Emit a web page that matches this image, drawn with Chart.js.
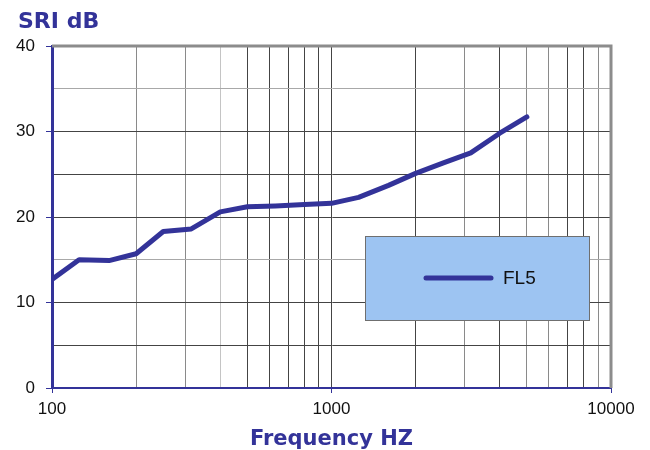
<!DOCTYPE html>
<html>
<head>
<meta charset="utf-8">
<script src="https://cdn.jsdelivr.net/npm/chart.js@4.4.1/dist/chart.umd.min.js"></script>
<style>
  body { margin: 0; background: #fff; }
  #wrap { width: 650px; height: 450px; position: relative; }
</style>
</head>
<body>
<div id="wrap"><canvas id="sriChart"></canvas></div>
<script>
// third-octave band centres and SRI values
const frequencies = [100, 125, 160, 200, 250, 315, 400, 500, 630, 800, 1000, 1250, 1600, 2000, 2500, 3150, 4000, 5000];
const sriValues = [12.7, 15.0, 14.9, 15.7, 18.3, 18.6, 20.6, 21.2, 21.3, 21.45, 21.6, 22.3, 23.7, 25.1, 26.3, 27.5, 29.8, 31.7];
const xGridValues = [100, 200, 300, 400, 500, 600, 700, 800, 900, 1000, 2000, 3000, 4000, 5000, 6000, 7000, 8000, 9000, 10000];
const xTickLabels = [100, 1000, 10000];
const yTickLabels = [0, 10, 20, 30, 40];
const seriesName = 'FL5';

const blue = '#333399';
const labelFont = { family: 'Liberation Sans, Arial, sans-serif', size: 17 };
const titleFont = { family: 'DejaVu Sans, sans-serif', size: 21, weight: 'bold', lineHeight: 1.0 };

// draws the title, the grey top/right frame and the boxed legend
const extras = {
    id: 'extras',
    afterDraw(chart) {
        const ctx = chart.ctx;
        const a = chart.chartArea;
        ctx.save();

        ctx.strokeStyle = '#8c8c8c';
        ctx.lineWidth = 3;
        ctx.beginPath();
        ctx.moveTo(a.left, a.top);
        ctx.lineTo(a.right, a.top);
        ctx.lineTo(a.right, a.bottom);
        ctx.stroke();

        ctx.fillStyle = blue;
        ctx.font = 'bold 22px "DejaVu Sans", sans-serif';
        ctx.textBaseline = 'alphabetic';
        ctx.fillText('SRI dB', 18, 28);

        // legend box
        ctx.fillStyle = '#9dc4f2';
        ctx.fillRect(365, 236, 224, 84);
        ctx.strokeStyle = '#6f6f6f';
        ctx.lineWidth = 1;
        ctx.strokeRect(365.5, 236.5, 224, 84);

        ctx.strokeStyle = blue;
        ctx.lineWidth = 5;
        ctx.lineCap = 'round';
        ctx.beginPath();
        ctx.moveTo(426, 278);
        ctx.lineTo(491, 278);
        ctx.stroke();

        ctx.fillStyle = '#111';
        ctx.font = '19px "Liberation Sans", Arial, sans-serif';
        ctx.textBaseline = 'middle';
        ctx.fillText(seriesName, 503, 279);
        ctx.restore();
    }
};

function gridColorX(ctx) {
    const v = ctx.tick ? ctx.tick.value : 0;
    if (v === 400) return '#c4c4c4';
    if (v === 200 || v === 300 || v === 3000 || v === 5000 || v === 6000 || v === 9000) return '#8a8a8a';
    return '#444';
}

function gridColorY(ctx) {
    const v = ctx.tick ? ctx.tick.value : 0;
    if (v === 15 || v === 35) return '#a8a8a8';
    return '#444';
}

new Chart(document.getElementById('sriChart'), {
    type: 'line',
    data: {
        labels: frequencies,
        datasets: [{
            label: seriesName,
            data: frequencies.map((f, i) => ({ x: f, y: sriValues[i] })),
            borderColor: blue,
            backgroundColor: blue,
            borderWidth: 5,
            pointRadius: 0,
            tension: 0,
            borderCapStyle: 'round',
            borderJoinStyle: 'round'
        }]
    },
    options: {
        responsive: true,
        maintainAspectRatio: false,
        animation: false,
        layout: { padding: { top: 46, right: 39, bottom: 0, left: 0 } },
        plugins: {
            legend: { display: false },
            tooltip: { enabled: false }
        },
        scales: {
            x: {
                type: 'logarithmic',
                min: 100,
                max: 10000,
                afterBuildTicks: (scale) => {
                    scale.ticks = xGridValues.map(v => ({ value: v }));
                },
                afterFit: (scale) => { scale.height = 62; },
                ticks: {
                    color: '#111',
                    font: labelFont,
                    padding: 6,
                    maxRotation: 0,
                    autoSkip: false,
                    callback: (value) => xTickLabels.includes(value) ? String(value) : ''
                },
                grid: {
                    color: gridColorX,
                    lineWidth: 1,
                    tickLength: 5,
                    tickColor: (ctx) => ctx.tick && xTickLabels.includes(ctx.tick.value) ? blue : 'rgba(0,0,0,0)'
                },
                border: { color: blue, width: 2 },
                title: {
                    display: true,
                    text: 'Frequency HZ',
                    color: blue,
                    font: titleFont,
                    padding: { top: 4, bottom: 0 }
                }
            },
            y: {
                min: 0,
                max: 40,
                afterFit: (scale) => { scale.width = 52; },
                ticks: {
                    stepSize: 5,
                    color: '#111',
                    font: labelFont,
                    padding: 11,
                    callback: (value) => yTickLabels.includes(value) ? String(value) : ''
                },
                grid: {
                    color: gridColorY,
                    lineWidth: 1,
                    tickLength: 6,
                    tickColor: (ctx) => ctx.tick && yTickLabels.includes(ctx.tick.value) ? blue : 'rgba(0,0,0,0)'
                },
                border: { color: blue, width: 3 }
            }
        }
    },
    plugins: [extras]
});
</script>
</body>
</html>
